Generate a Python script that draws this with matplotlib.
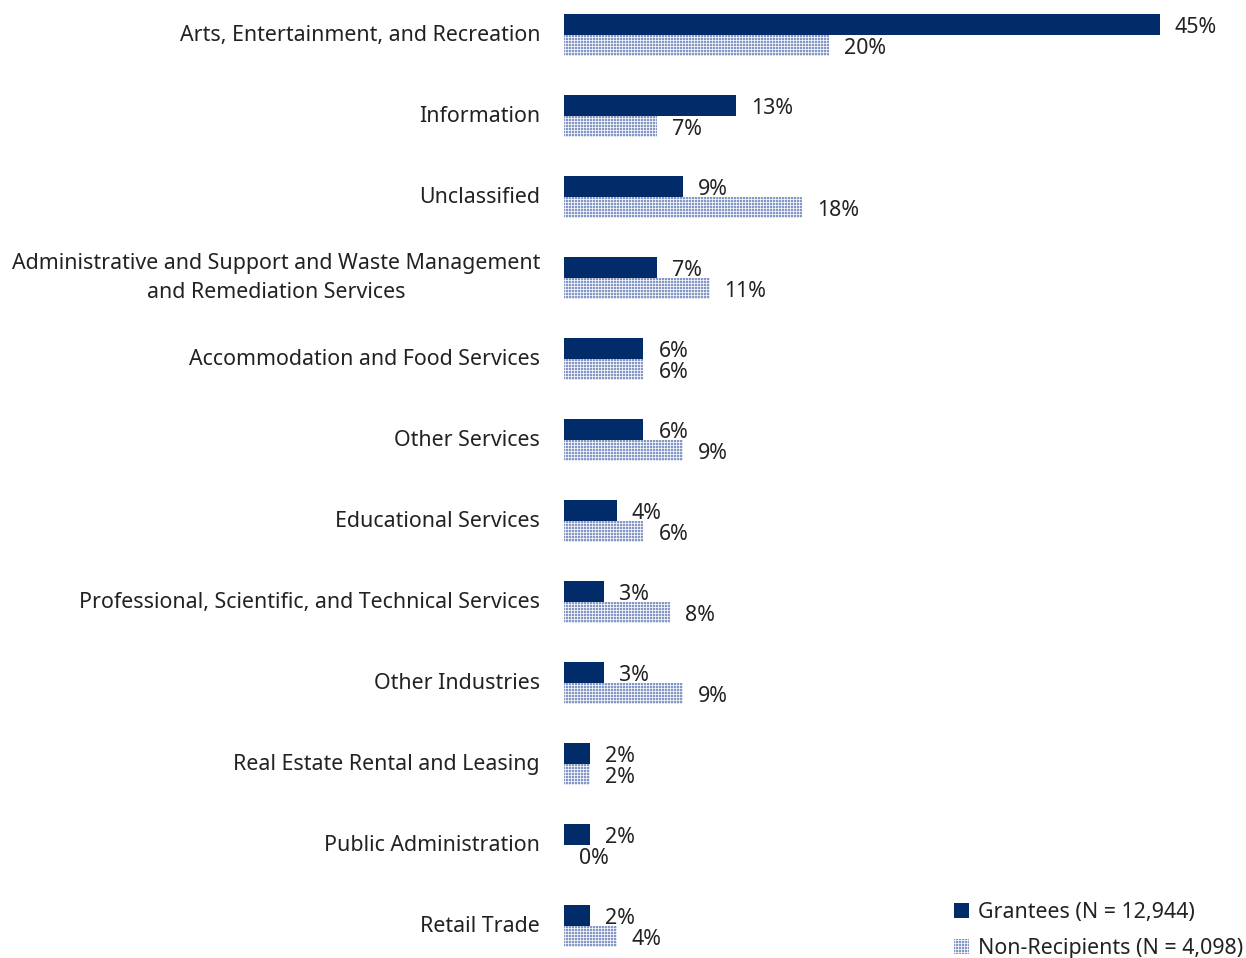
import matplotlib
matplotlib.use("Agg")
import matplotlib.pyplot as plt
import numpy as np
from matplotlib.patches import Patch

DPI = 144
PX = 72 / DPI  # points per pixel

plt.rcParams['hatch.linewidth'] = 0.7 * PX

categories = [
    "Arts, Entertainment, and Recreation",
    "Information",
    "Unclassified",
    "Administrative and Support and Waste Management\nand Remediation Services",
    "Accommodation and Food Services",
    "Other Services",
    "Educational Services",
    "Professional, Scientific, and Technical Services",
    "Other Industries",
    "Real Estate Rental and Leasing",
    "Public Administration",
    "Retail Trade",
]
grantees = [45, 13, 9, 7, 6, 6, 4, 3, 3, 2, 2, 2]
non_recipients = [20, 7, 18, 11, 6, 9, 6, 8, 9, 2, 0, 4]
series_names = ["Grantees (N = 12,944)", "Non-Recipients (N = 4,098)"]

navy = "#012b69"
dotted = "#8599c4"
texture = "+" * 8
ink = "#222222"
plt.rcParams['font.family'] = ["Noto Sans", "DejaVu Sans"]
fs = 21.4 * PX

W, H = 1246, 958
fig = plt.figure(figsize=(W / DPI, H / DPI), dpi=DPI)
ax = fig.add_axes([564 / W, 0, 1 - 564 / W, 1])

y = np.arange(len(categories))
h = 21 / 81
ax.barh(y - h / 2, grantees, height=h, color=navy, edgecolor="none")
ax.barh(y + h / 2, non_recipients, height=h, color=dotted, edgecolor="white",
        linewidth=0, hatch=texture)

xmax = (W - 564) / 13.24
ax.set_xlim(0, xmax)
ax.set_ylim(11 + (H - 926) / 81, -35 / 81)

off = 15 / 13.24
dy = 3 / 81
for i, (g, n) in enumerate(zip(grantees, non_recipients)):
    ax.text(g + off, i - h / 2 + dy, f"{g}%", va="center", ha="left", fontsize=fs, color=ink)
    ax.text(n + off, i + h / 2 + dy, f"{n}%", va="center", ha="left", fontsize=fs, color=ink)

# category labels, right-aligned to the left of the bars
for i, cat in enumerate(categories):
    lift = 0 if "\n" in cat else -1
    ax.annotate(cat, xy=(0, i), xycoords=("axes fraction", "data"),
                xytext=(-24 * PX, lift * PX), textcoords="offset points",
                ha="right", va="center", ma="center", fontsize=fs, color=ink,
                linespacing=1.55, annotation_clip=False)

ax.set_yticks([])
ax.set_xticks([])
for s in ax.spines.values():
    s.set_visible(False)

handles = [Patch(facecolor=navy, edgecolor="none"),
           Patch(facecolor=dotted, edgecolor="white", linewidth=0, hatch=texture)]
leg = fig.legend(handles, series_names, loc="lower right", bbox_to_anchor=(1.013, -0.021),
                 frameon=False, fontsize=fs, handlelength=0.7, handleheight=0.7,
                 handletextpad=0.4, labelspacing=0.7)
for t in leg.get_texts():
    t.set_color(ink)

fig.savefig("out.png", dpi=DPI)
